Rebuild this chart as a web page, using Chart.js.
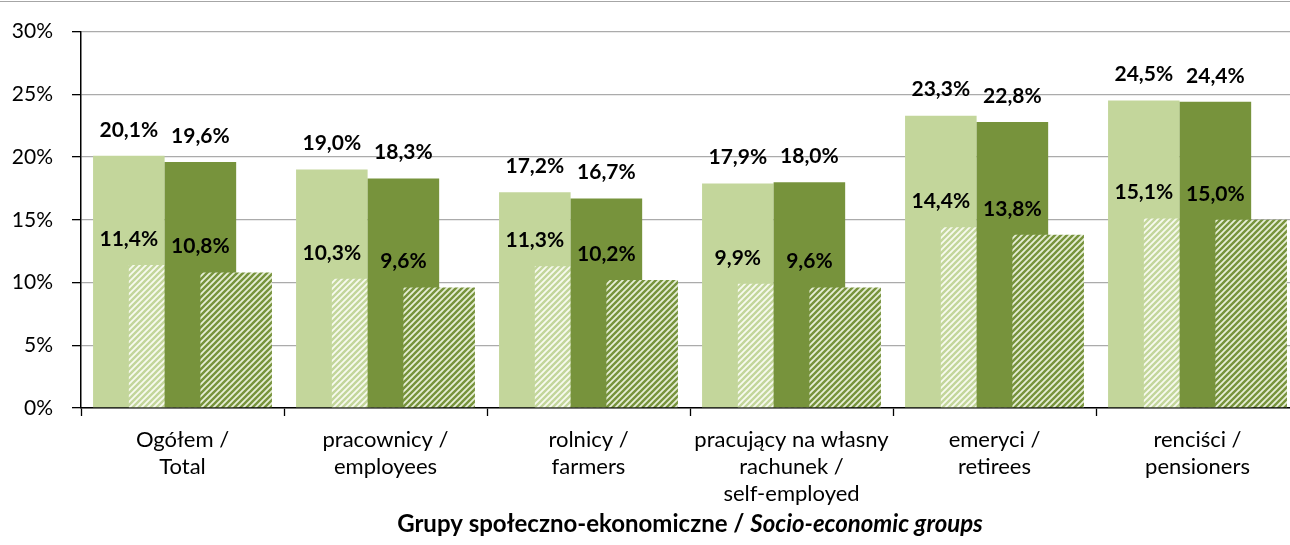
<!DOCTYPE html>
<html>
<head>
<meta charset="utf-8">
<script src="https://cdn.jsdelivr.net/npm/chart.js@4.4.1/dist/chart.umd.min.js"></script>
<style>
html, body { margin: 0; padding: 0; overflow: hidden; background: #fff; }
#frame { position: absolute; left: 0; top: 1px; width: 1290px; border-top: 1px solid #a6a6a6; }
#wrap { position: absolute; left: 0; top: 0; width: 1300px; height: 545px; }
</style>
</head>
<body>
<div id="frame"></div>
<div id="wrap"><canvas id="chart"></canvas></div>
<script>
// categories (x axis)
const categories = [
    ['Ogółem /', 'Total'],
    ['pracownicy /', 'employees'],
    ['rolnicy /', 'farmers'],
    ['pracujący na własny', 'rachunek /', 'self-employed'],
    ['emeryci /', 'retirees'],
    ['renciści /', 'pensioners']
];

// values in %
const lightSolid = [20.1, 19.0, 17.2, 17.9, 23.3, 24.5];
const lightHatched = [11.4, 10.3, 11.3, 9.9, 14.4, 15.1];
const darkSolid = [19.6, 18.3, 16.7, 18.0, 22.8, 24.4];
const darkHatched = [10.8, 9.6, 10.2, 9.6, 13.8, 15.0];

const yMax = 30;
const yStep = 5;

const axisTitleBold = 'Grupy społeczno-ekonomiczne / ';
const axisTitleItalic = 'Socio-economic groups';

const LIGHT = '#c3d69b';
const DARK = '#77933c';

Chart.defaults.font.family = 'Lato, "Open Sans", sans-serif';
Chart.defaults.color = '#000';

// diagonal stripes fill
function stripes(color, bg) {
    const c = document.createElement('canvas');
    c.width = 6;
    c.height = 6;
    const g = c.getContext('2d');
    g.fillStyle = bg;
    g.fillRect(0, 0, 6, 6);
    g.strokeStyle = color;
    g.lineWidth = 2.4;
    g.beginPath();
    g.moveTo(-1, 7); g.lineTo(7, -1);
    g.moveTo(-4, 4); g.lineTo(4, -4);
    g.moveTo(2, 10); g.lineTo(10, 2);
    g.stroke();
    return g.createPattern(c, 'repeat');
}

const fmt = v => v.toFixed(1).replace('.', ',') + '%';

// datasets drawn in index order: first one at the bottom
const drawOrder = {
    id: 'drawOrder',
    beforeDatasetsDraw(chart) {
        chart.getSortedVisibleDatasetMetas().forEach(m => m.controller.draw());
        return false;
    }
};

const labelsAndTitle = {
    id: 'labelsAndTitle',
    afterDraw(chart) {
        const ctx = chart.ctx;
        ctx.save();
        ctx.fillStyle = '#000';
        ctx.textAlign = 'center';
        ctx.textBaseline = 'middle';
        ctx.font = 'bold 21px Lato, sans-serif';
        chart.data.datasets.forEach((ds, di) => {
            const meta = chart.getDatasetMeta(di);
            meta.data.forEach((bar, i) => {
                const x = ds.hatched ? bar.x - bar.width / 2 : bar.x;
                ctx.fillText(fmt(ds.data[i]), x, bar.y - 26);
            });
        });

        const a = chart.chartArea;
        const fBold = 'bold 24px Lato, sans-serif';
        const fItal = 'italic bold 24px Lato, sans-serif';
        ctx.font = fBold;
        const w1 = ctx.measureText(axisTitleBold).width;
        ctx.font = fItal;
        const w2 = ctx.measureText(axisTitleItalic).width;
        let x = (a.left + a.right) / 2 - (w1 + w2) / 2;
        ctx.textAlign = 'left';
        ctx.font = fBold;
        ctx.fillText(axisTitleBold, x, 524);
        ctx.font = fItal;
        ctx.fillText(axisTitleItalic, x + w1, 524);
        ctx.restore();
    }
};

const ctx = document.getElementById('chart').getContext('2d');

new Chart(ctx, {
    type: 'bar',
    data: {
        labels: categories,
        datasets: [
            { label: 'light', data: lightSolid, backgroundColor: LIGHT },
            { label: 'light hatched', data: lightHatched, backgroundColor: stripes(LIGHT, '#f7faef'), hatched: true },
            { label: 'dark', data: darkSolid, backgroundColor: DARK },
            { label: 'dark hatched', data: darkHatched, backgroundColor: stripes(DARK, '#e6eed6'), hatched: true }
        ]
    },
    options: {
        responsive: true,
        maintainAspectRatio: false,
        animation: false,
        // bars twice as wide as their slot, so neighbours overlap by half
        categoryPercentage: 0.705,
        barPercentage: 2,
        layout: { padding: { top: 23, right: 1, left: 0, bottom: 0 } },
        plugins: {
            legend: { display: false },
            tooltip: { enabled: false }
        },
        scales: {
            x: {
                grid: { drawOnChartArea: false, offset: true, tickLength: 8, tickColor: '#000', tickWidth: 1.3 },
                border: { color: '#000', width: 1.5 },
                ticks: { font: { size: 22, lineHeight: 1.23 }, padding: 10, maxRotation: 0, autoSkip: false },
                afterFit(scale) { scale.height = 137; }
            },
            y: {
                min: 0,
                max: yMax,
                ticks: { stepSize: yStep, font: { size: 21 }, padding: 19, callback: v => v + '%' },
                grid: { color: '#ababab', lineWidth: 1.3, tickColor: '#000', tickLength: 9 },
                border: { color: '#000', width: 1.5 },
                afterFit(scale) { scale.width = 81; }
            }
        }
    },
    plugins: [drawOrder, labelsAndTitle]
});
</script>
</body>
</html>
